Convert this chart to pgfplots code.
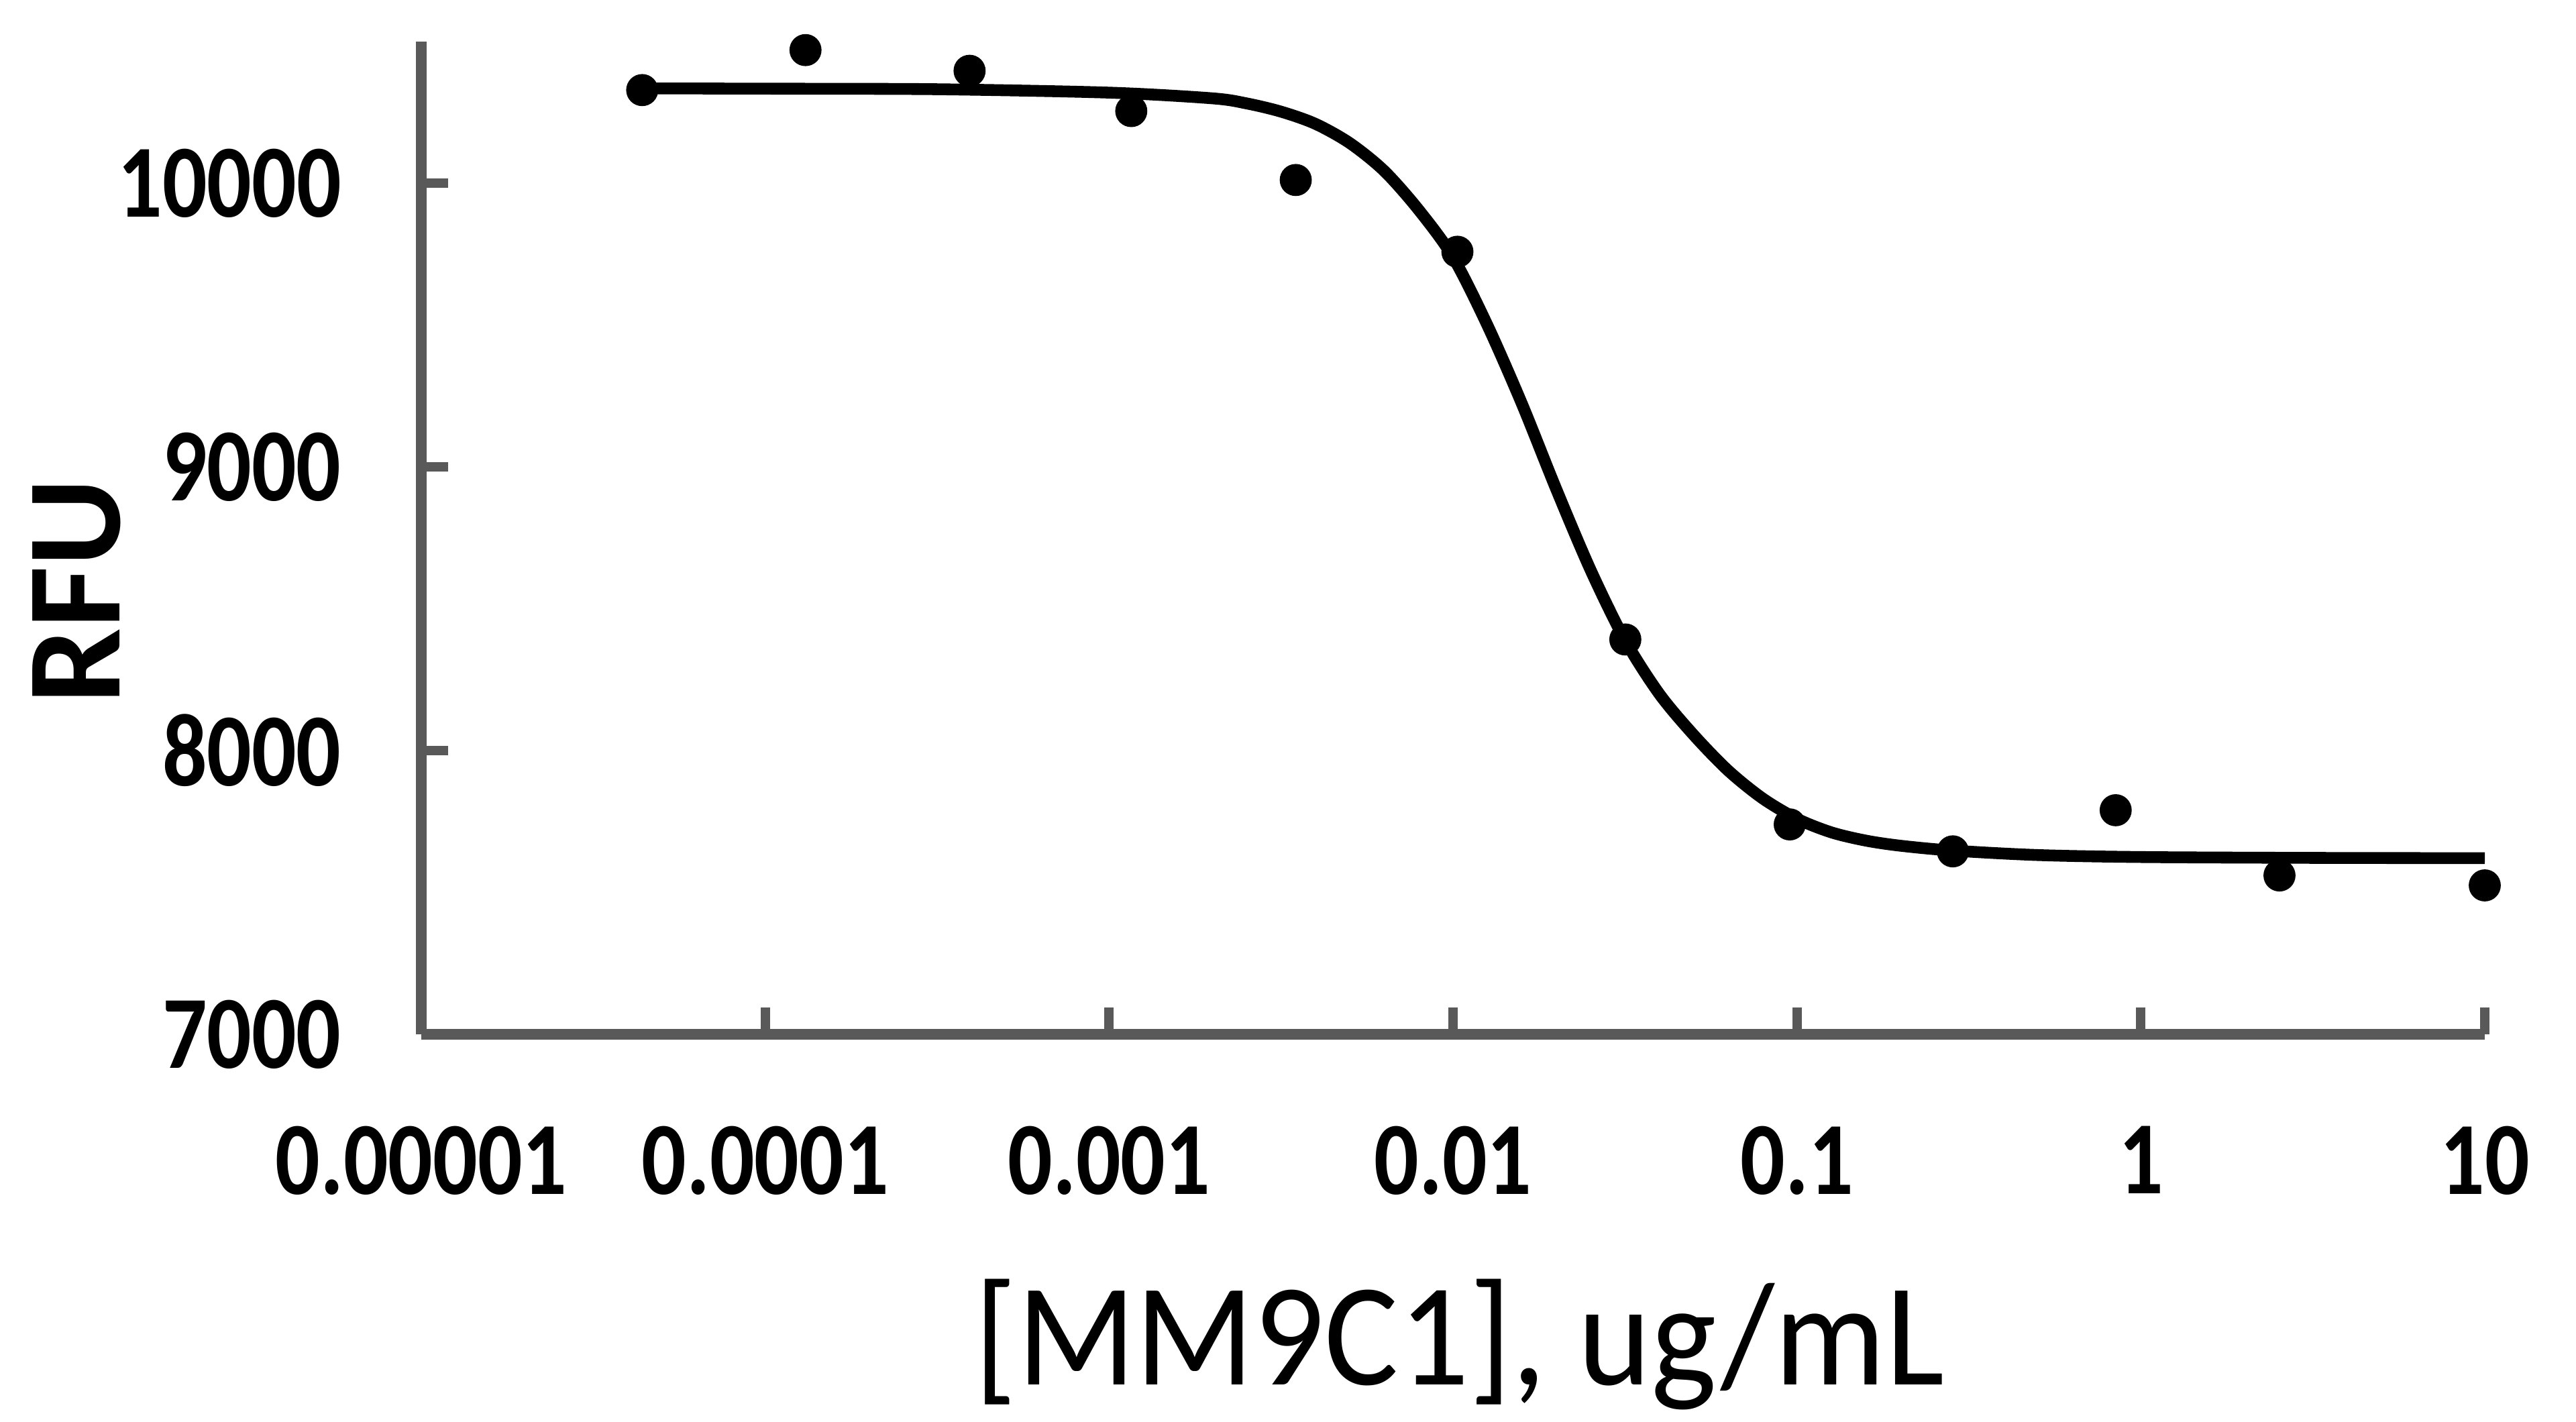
\documentclass[border=0pt]{standalone}
\usepackage{fontspec}
\setmainfont{Carlito}
\newfontfamily\tickfont[FakeStretch=0.85]{Carlito}
\newfontfamily\titlefont[FakeStretch=0.95]{Carlito}
\usepackage{pgfplots}
\pgfplotsset{compat=1.18}
\usetikzlibrary{calc}
\definecolor{axgray}{RGB}{89,89,89}
\begin{document}
\begin{tikzpicture}
\begin{axis}[
 scale only axis, width=15.38cm, height=7.40cm,
 xmode=log, xmin=1e-5, xmax=10, ymin=7000, ymax=10500,
 scaled y ticks=false,
 axis lines=left, axis line style={-, axgray, line width=2.2pt},
 xtick={1e-5,1e-4,1e-3,1e-2,1e-1,1,10},
 xticklabels={0.00001,0.0001,0.001,0.01,0.1,1,10},
 ytick={7000,8000,9000,10000}, yticklabels={7000,8000,9000,10000},
 xminorticks=false, yminorticks=false,
 tick align=inside, major tick length=0.2cm,
 tick style={axgray, line width=2pt},
 xticklabel style={font=\tickfont\bfseries\fontsize{22}{24}\selectfont, anchor=north, inner sep=0pt, yshift=-0.68cm},
 yticklabel style={font=\tickfont\bfseries\fontsize{22}{24}\selectfont, anchor=east, inner sep=0pt, xshift=-0.59cm},
 xlabel={[MM9C1], ug/mL},
 xlabel style={font=\titlefont\fontsize{31}{34}\selectfont, at={(axis description cs:0.503,-0.353)}, anchor=base, inner sep=0pt},
 ylabel={RFU},
 ylabel style={font=\bfseries\fontsize{28.5}{30}\selectfont, at={(axis description cs:-0.167,0.446)}, anchor=center, rotate=0, inner sep=0pt},
 clip=false,
]
\addplot[black, line width=2.5pt, smooth, no markers] coordinates {
(4.37e-5,10335) (1e-4,10334) (3.16e-4,10332) (1e-3,10320) (1.995e-3,10300)
(2.512e-3,10282) (3.162e-3,10253) (3.981e-3,10210) (5.012e-3,10142) (6.31e-3,10044)
(7.943e-3,9907) (0.01,9740) (0.01259,9500) (0.01585,9224) (0.01995,8923)
(0.02512,8637) (0.03162,8390) (0.03981,8200) (0.05012,8055) (0.0631,7930)
(0.07943,7832) (0.1,7760) (0.1259,7712) (0.1585,7683) (0.1995,7665)
(0.2818,7648) (0.5012,7632) (1,7625) (3.162,7622) (10,7621)
};
\addplot[only marks, mark=*, mark size=3.2pt, black] coordinates {
(4.39e-5,10329) (1.31e-4,10470) (3.93e-4,10397) (1.16e-3,10255)
(3.49e-3,10012) (1.03e-2,9759) (3.17e-2,8392) (9.53e-2,7740)
(0.284,7645) (0.845,7790) (2.53,7560) (10,7525)
};
\coordinate (ll) at (rel axis cs:0,0);
\coordinate (ur) at (rel axis cs:1,1);
\end{axis}
\path ($(ll)+(-3.14cm,-2.89cm)$) rectangle ($(ur)+(0.68cm,0.31cm)$);
\end{tikzpicture}
\end{document}
